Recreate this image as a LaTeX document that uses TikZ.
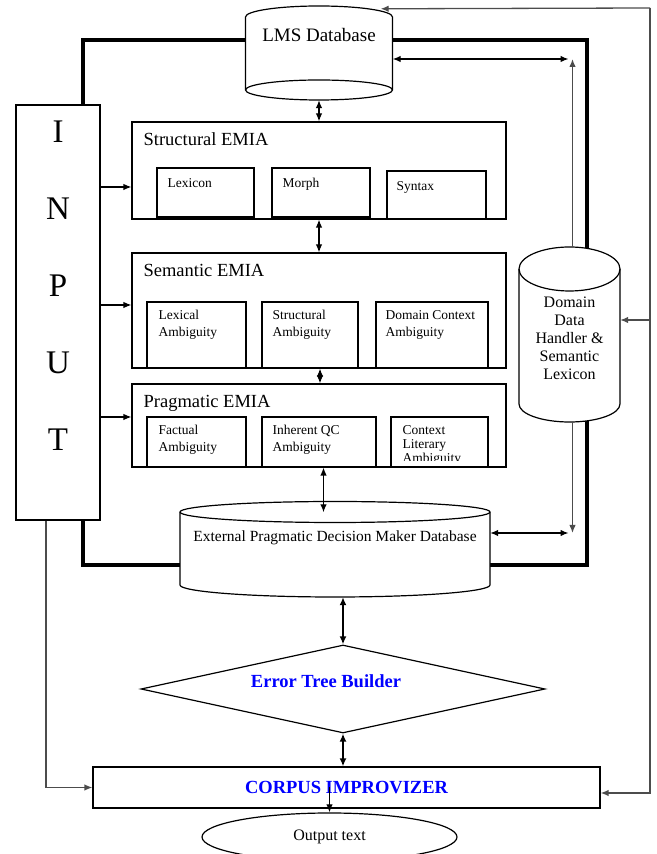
\documentclass[tikz,border=0pt]{standalone}
\usepackage{fontspec}
\setmainfont{Liberation Serif}
\usetikzlibrary{arrows.meta,shapes.geometric}

\begin{document}
\begin{tikzpicture}[x=1pt,y=1pt,
	box/.style={draw, line width=1.2pt, fill=white, inner sep=0pt},
	dbody/.style={inner sep=0pt},
	ttl/.style={anchor=base west, inner sep=0pt, xshift=12pt, yshift=-24pt, font=\fontsize{18.5}{20}\selectfont},
	sub/.style={anchor=north west, inner sep=0pt, xshift=11pt, yshift=-8.5pt, align=left, font=\fontsize{13.5}{17}\selectfont},
	dtxt/.style={anchor=center, inner sep=0pt, align=center},
	arr/.style={line width=1.2pt, -{Latex[length=8pt,width=6.5pt]}},
	darr/.style={line width=1.2pt, {Latex[length=8pt,width=6.5pt]}-{Latex[length=8pt,width=6.5pt]}},
	tarr/.style={line width=2.6pt, {Latex[length=8pt,width=7pt]}-{Latex[length=8pt,width=7pt]}},
	garr/.style={line width=1.3pt, draw=black!70, -{Latex[length=8pt,width=6.5pt]}},
	blu/.style={font=\fontsize{18.5}{20}\selectfont\bfseries, text=blue}]
	\useasboundingbox (0,0) rectangle (656,854);

	% thick frame round the analysers
	\draw[line width=4.5pt] (83,289) rectangle (587,814);

	% outer feedback line
	\coordinate (ne) at (650,846);

	% cylinders
	\filldraw[line width=1.2pt, fill=white] (245.5,837) arc[start angle=180,end angle=0,x radius=73.5,y radius=11] -- (392.5,764) arc[start angle=0,end angle=-180,x radius=73.5,y radius=10] -- cycle;
	\draw[line width=1.2pt] (392.5,764) arc[start angle=0,end angle=180,x radius=73.5,y radius=10];
	\node[dbody, minimum width=147pt, minimum height=94pt,
		label={[dtxt, font=\fontsize{19}{20}\selectfont, yshift=18pt]center:LMS Database}] (lms) at (319,801) {};

	\filldraw[line width=1.2pt, fill=white] (180,342) -- (180,269) arc[start angle=180,end angle=360,x radius=155,y radius=12] -- (490,342) arc[start angle=0,end angle=180,x radius=155,y radius=10.5] -- cycle;
	\draw[line width=1.2pt] (180,342) arc[start angle=180,end angle=360,x radius=155,y radius=10.5];
	\node[dbody, minimum width=310pt, minimum height=95pt,
		label={[dtxt, font=\fontsize{15.5}{17}\selectfont, yshift=11.5pt]center:External Pragmatic Decision Maker Database}] (epdm) at (335,304.5) {};

	\filldraw[line width=1.2pt, fill=white] (519,585) -- (519,450) arc[start angle=180,end angle=360,x radius=50.5,y radius=18] -- (620,585) arc[start angle=0,end angle=180,x radius=50.5,y radius=22] -- cycle;
	\draw[line width=1.2pt] (519,585) arc[start angle=180,end angle=360,x radius=50.5,y radius=22];
	\node[dbody, minimum width=101pt, minimum height=175pt,
		label={[dtxt, font=\fontsize{16}{18}\selectfont, yshift=-3.5pt]center:Domain\\Data\\Handler \&\\Semantic\\Lexicon}] (ddh) at (569.5,519.5) {};

	% input column
	\node[box, minimum width=84pt, minimum height=415pt,
		label={[dtxt, font=\fontsize{33}{77}\selectfont, yshift=26.5pt]center:I\\N\\P\\U\\T}] (input) at (58,541.5) {};

	% structural
	\node[box, minimum width=374pt, minimum height=97pt, label={[ttl]north west:Structural EMIA}] (struct) at (319,683.5) {};
	\node[box, minimum width=97pt, minimum height=49pt, label={[sub, yshift=-2pt]north west:Lexicon}] (lex) at (205.5,661.5) {};
	\node[box, minimum width=98pt, minimum height=49pt, label={[sub, yshift=-2pt]north west:Morph}] (morph) at (321,661.5) {};
	\node[box, minimum width=99pt, minimum height=48pt, label={[sub, yshift=-2pt, xshift=-1pt]north west:Syntax}] (syn) at (436.5,659) {};

	% semantic
	\node[box, minimum width=374pt, minimum height=115pt, label={[ttl]north west:Semantic EMIA}] (sem) at (319,543.5) {};
	\node[box, minimum width=99pt, minimum height=66pt, label={[sub, xshift=1pt]north west:Lexical\\Ambiguity}] (lexamb) at (196.5,519) {};
	\node[box, minimum width=96pt, minimum height=66pt, label={[sub]north west:Structural\\Ambiguity}] (stramb) at (310,519) {};
	\node[box, minimum width=112pt, minimum height=66pt, label={[sub, xshift=-1pt]north west:Domain Context\\Ambiguity}] (domamb) at (432,519) {};

	% pragmatic
	\node[box, minimum width=374pt, minimum height=83pt, label={[ttl]north west:Pragmatic EMIA}] (prag) at (319,428.5) {};
	\node[box, minimum width=99pt, minimum height=50pt, label={[sub, xshift=1pt]north west:Factual\\Ambiguity}] (fact) at (196.5,412) {};
	\node[box, minimum width=114pt, minimum height=50pt, label={[sub]north west:Inherent QC\\Ambiguity}] (inh) at (319,412) {};
	\node[box, minimum width=97pt, minimum height=50pt] (clt) at (439.5,412) {};
	\begin{scope}
		\clip (clt.north west) rectangle ([yshift=7pt]clt.south east);
		\node[sub, xshift=1pt, font=\fontsize{13.5}{14}\selectfont] (clttxt) at (clt.north west) {Context\\Literary\\Ambiguity};
	\end{scope}

	% lower part
	\node[draw, diamond, line width=1.2pt, fill=white, inner sep=0pt, aspect=4.6, minimum width=404pt, minimum height=88pt,
		label={[dtxt, blu, xshift=-17pt, yshift=8pt]center:Error Tree Builder}] (etb) at (343,165) {};
	\node[box, blu, minimum width=507pt, minimum height=41pt] (corpus) at (346.5,66.5) {CORPUS IMPROVIZER};
	\node[draw, ellipse, line width=1.2pt, inner sep=0pt, minimum width=255pt, minimum height=48pt,
		font=\fontsize{16}{18}\selectfont] (out) at (329.5,17) {Output text};

	% links between the analysers
	\draw[darr] (lms.south) -- (struct.north);
	\draw[darr] (struct.south) -- (sem.north);
	\draw[darr] ([xshift=1pt]sem.south) -- ([xshift=1pt]prag.north);
	\coordinate (pragb) at ([xshift=4.5pt]prag.south);
	\coordinate (epdmtop) at ([yshift=-10.5pt]epdm.north);
	\draw[darr] (pragb) -- (pragb |- epdmtop);
	\draw[tarr] (epdm.south -| etb.north) -- (etb.north);
	\draw[tarr] (etb.south) -- (etb.south |- corpus.north);
	\draw[arr] (out.north |- corpus.center) -- (out.north);

	% input arrows
	\coordinate (ins) at ([yshift=-16.5pt]struct.west);
	\coordinate (inm) at ([yshift=5.5pt]sem.west);
	\coordinate (inp) at ([yshift=8.5pt]prag.west);
	\draw[arr] (input.east |- ins) -- (ins);
	\draw[arr] (input.east |- inm) -- (inm);
	\draw[arr] (input.east |- inp) -- (inp);
	\draw[garr] ([xshift=-12pt]input.south) |- (corpus.west);

	% domain data handler links
	\coordinate (lmsr) at ([yshift=-6pt]lms.east);
	\coordinate (ddht) at ([xshift=3pt]ddh.north);
	\coordinate (ddhup) at (ddht |- lmsr);
	\draw[darr] (lmsr) -- ([xshift=-4pt]ddhup);
	\draw[garr] (ddht) -- (ddhup);
	\coordinate (epdmr) at ([yshift=16.5pt]epdm.east);
	\coordinate (ddhb) at ([xshift=3pt]ddh.south);
	\coordinate (ddhdn) at (ddhb |- epdmr);
	\draw[darr] (epdmr) -- ([xshift=-4pt]ddhdn);
	\draw[garr] (ddhb) -- (ddhdn);

	% feedback from the right
	\coordinate (lmstop) at ([xshift=-12pt,yshift=-3pt]lms.north east);
	\coordinate (cr) at ([yshift=-5.5pt]corpus.east);
	\coordinate (ddhr) at ([yshift=14.5pt]ddh.east);
	\draw[garr] (ne) -- (lmstop);
	\draw[garr] (ne) |- (cr);
	\draw[garr] (ddhr -| ne) -- (ddhr);
\end{tikzpicture}
\end{document}
